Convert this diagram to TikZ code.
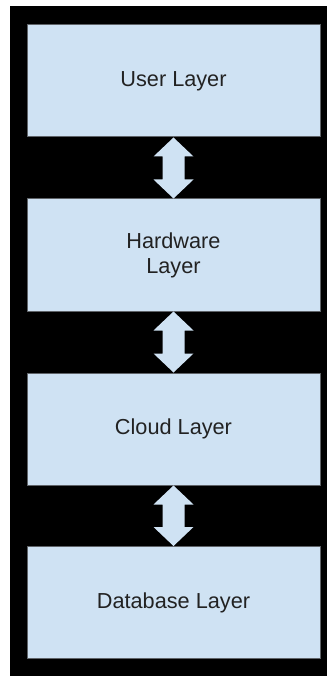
\documentclass[tikz,border=0pt]{standalone}
\usepackage{fontspec}
\setmainfont{Liberation Sans}
\usetikzlibrary{calc}
\definecolor{layerfill}{HTML}{CFE2F3}
\definecolor{layerline}{HTML}{5F6368}
\definecolor{layertext}{HTML}{222222}
\tikzset{
  layer/.style={draw=layerline, line width=1pt, fill=layerfill,
    minimum width=293pt, minimum height=112pt, inner sep=0pt,
    align=center, text=layertext,
    font=\fontsize{21.7}{25}\selectfont},
  linkarrow/.style={fill=layerfill}
}
% two-headed block arrow from the bottom of #1 to the top of #2
\newcommand\layerlink[2]{%
  \fill[linkarrow] (#1.south) -- ++(20pt,-19pt) -- ++(-9pt,0pt)
    -- ($(#2.north)+(11pt,19pt)$) -- ++(9pt,0pt) -- (#2.north)
    -- ++(-20pt,19pt) -- ++(9pt,0pt)
    -- ($(#1.south)+(-11pt,-19pt)$) -- ++(-9pt,0pt) -- cycle;}
\begin{document}
\begin{tikzpicture}[x=1pt,y=1pt]
  \fill[white] (0,0) rectangle (327,-676);
  \fill[black] (10,-6) rectangle (327,-676);
  \useasboundingbox (0,0) rectangle (327,-676);
  \node[layer] (user) at (173.5,-81) {User Layer};
  \node[layer] (hw) at (173.5,-255) {Hardware\\Layer};
  \node[layer] (cloud) at (173.5,-429) {Cloud Layer};
  \node[layer] (db) at (173.5,-602.5) {Database Layer};
  \layerlink{user}{hw}
  \layerlink{hw}{cloud}
  \layerlink{cloud}{db}
\end{tikzpicture}
\end{document}
